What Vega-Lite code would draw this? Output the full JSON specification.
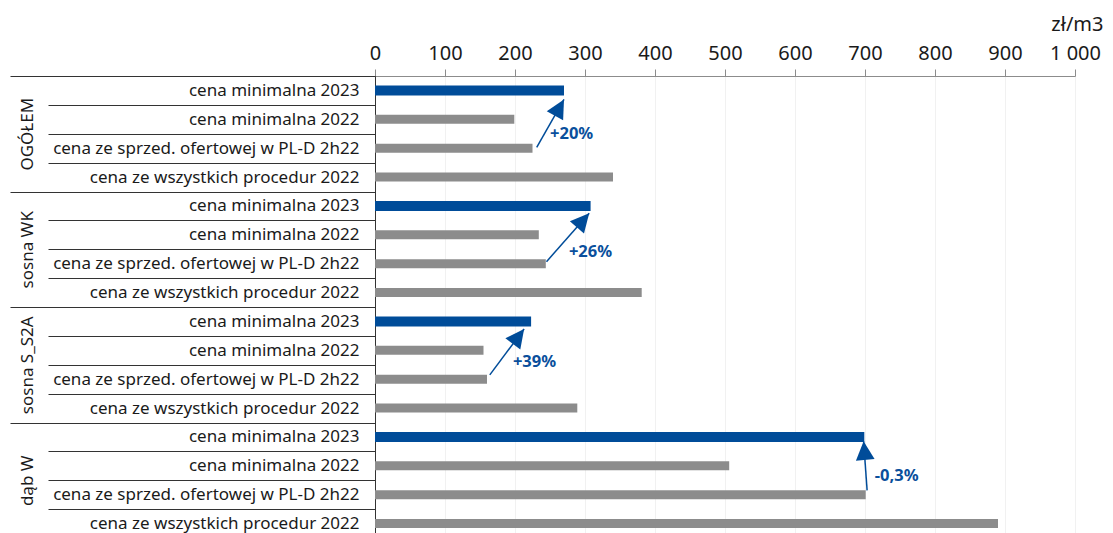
{
  "$schema": "https://vega.github.io/schema/vega-lite/v6.json",
  "width": 700,
  "height": 462,
  "autosize": {"type": "none"},
  "padding": {"left": 375, "top": 76, "right": 38, "bottom": 0},
  "background": "white",
  "config": {"view": {"stroke": null}},
  "datasets": {
    "ceny": [
      {"grupa": "OGÓŁEM", "kategoria": "cena minimalna 2023", "wartosc": 270},
      {"grupa": "OGÓŁEM", "kategoria": "cena minimalna 2022", "wartosc": 199},
      {"grupa": "OGÓŁEM", "kategoria": "cena ze sprzed. ofertowej w PL-D 2h22", "wartosc": 225},
      {"grupa": "OGÓŁEM", "kategoria": "cena ze wszystkich procedur 2022", "wartosc": 340},
      {"grupa": "sosna WK", "kategoria": "cena minimalna 2023", "wartosc": 308},
      {"grupa": "sosna WK", "kategoria": "cena minimalna 2022", "wartosc": 234},
      {"grupa": "sosna WK", "kategoria": "cena ze sprzed. ofertowej w PL-D 2h22", "wartosc": 244},
      {"grupa": "sosna WK", "kategoria": "cena ze wszystkich procedur 2022", "wartosc": 381},
      {"grupa": "sosna S_S2A", "kategoria": "cena minimalna 2023", "wartosc": 223},
      {"grupa": "sosna S_S2A", "kategoria": "cena minimalna 2022", "wartosc": 155},
      {"grupa": "sosna S_S2A", "kategoria": "cena ze sprzed. ofertowej w PL-D 2h22", "wartosc": 160},
      {"grupa": "sosna S_S2A", "kategoria": "cena ze wszystkich procedur 2022", "wartosc": 289},
      {"grupa": "dąb W", "kategoria": "cena minimalna 2023", "wartosc": 699},
      {"grupa": "dąb W", "kategoria": "cena minimalna 2022", "wartosc": 506},
      {"grupa": "dąb W", "kategoria": "cena ze sprzed. ofertowej w PL-D 2h22", "wartosc": 701},
      {"grupa": "dąb W", "kategoria": "cena ze wszystkich procedur 2022", "wartosc": 890}
    ],
    "strzalki": [
      {"grupa": "OGÓŁEM", "etykieta": "+20%", "x_od": 231, "y_od": 2.47, "x_do": 270, "y_do": 0.81, "x_tekst": 250, "y_tekst": 2.0},
      {"grupa": "sosna WK", "etykieta": "+26%", "x_od": 245, "y_od": 6.43, "x_do": 306, "y_do": 4.75, "x_tekst": 277, "y_tekst": 6.11},
      {"grupa": "sosna S_S2A", "etykieta": "+39%", "x_od": 164, "y_od": 10.35, "x_do": 213, "y_do": 8.76, "x_tekst": 197, "y_tekst": 9.9},
      {"grupa": "dąb W", "etykieta": "-0,3%", "x_od": 703, "y_od": 14.35, "x_do": 698, "y_do": 12.65, "x_tekst": 714, "y_tekst": 13.87}
    ]
  },
  "layer": [
    {
      "data": {"name": "ceny"},
      "transform": [{"calculate": "datum.grupa + '|' + datum.kategoria", "as": "wiersz"}],
      "mark": {"type": "bar"},
      "encoding": {
        "x": {
          "field": "wartosc", "type": "quantitative",
          "scale": {"domain": [0, 1000], "nice": false},
          "axis": {
            "orient": "top",
            "values": [0, 100, 200, 300, 400, 500, 600, 700, 800, 900, 1000],
            "labelExpr": "datum.value == 1000 ? '1 000' : datum.label",
            "labelFlush": false, "labelOverlap": false, "labelBound": false,
            "tickSize": 7, "tickColor": "#8c8c8c", "domainColor": "#8c8c8c",
            "labelFont": "Noto Sans", "labelFontSize": 20, "labelColor": "#1a1a1a", "labelPadding": 6,
            "grid": true, "gridColor": "#f1f1f1",
            "title": "zł/m3", "titleFont": "Noto Sans", "titleFontSize": 20, "titleFontWeight": "normal",
            "titleColor": "#1a1a1a", "titleAlign": "right", "titleAnchor": "end",
            "titleX": 728, "titleY": -46, "titleBaseline": "alphabetic"
          }
        },
        "y": {
          "field": "wiersz", "type": "nominal", "sort": null,
          "scale": {"type": "band", "paddingInner": 0, "paddingOuter": 0},
          "axis": {
            "title": null,
            "labelExpr": "split(datum.label, '|')[1]",
            "tickBand": "extent", "tickSize": 327, "tickColor": "#333333", "tickWidth": 1,
            "labelPadding": -311, "labelAlign": "right", "labelBaseline": "middle",
            "labelFont": "Noto Sans", "labelFontSize": 17, "labelColor": "#1a1a1a",
            "labelLimit": 500, "labelOverlap": false,
            "domainColor": "#333333"
          }
        },
        "color": {
          "field": "kategoria", "type": "nominal",
          "scale": {
            "domain": ["cena minimalna 2023", "cena minimalna 2022", "cena ze sprzed. ofertowej w PL-D 2h22", "cena ze wszystkich procedur 2022"],
            "range": ["#004c99", "#8c8c8c", "#8c8c8c", "#8c8c8c"]
          },
          "legend": null
        },
        "size": {
          "field": "kategoria", "type": "ordinal",
          "scale": {
            "type": "ordinal",
            "domain": ["cena minimalna 2023", "cena minimalna 2022", "cena ze sprzed. ofertowej w PL-D 2h22", "cena ze wszystkich procedur 2022"],
            "range": [10, 9, 9, 9]
          },
          "legend": null
        }
      }
    },
    {
      "data": {"name": "ceny"},
      "mark": {"type": "tick", "opacity": 0},
      "encoding": {
        "x": {"field": "wartosc", "type": "quantitative", "scale": {"domain": [0, 1000], "nice": false}},
        "y": {
          "field": "grupa", "type": "nominal", "sort": null,
          "scale": {"type": "band", "paddingInner": 0, "paddingOuter": 0},
          "axis": {
            "orient": "left", "title": null, "domain": false,
            "tickBand": "extent", "tickSize": 365, "tickColor": "#333333", "tickWidth": 1,
            "labelAngle": -90, "labelAlign": "center", "labelBaseline": "alphabetic",
            "labelPadding": -22, "labelFont": "Noto Sans", "labelFontSize": 17, "labelColor": "#1a1a1a",
            "labelLimit": 300, "labelOverlap": false
          }
        }
      }
    },
    {
      "data": {"name": "strzalki"},
      "mark": {"type": "rule", "color": "#004c99", "strokeWidth": 1.5},
      "encoding": {
        "x": {"field": "x_od", "type": "quantitative", "scale": {"domain": [0, 1000], "nice": false}},
        "x2": {"field": "x_do"},
        "y": {"field": "y_od", "type": "quantitative", "scale": {"domain": [0, 16], "reverse": true, "nice": false, "zero": false}, "axis": null},
        "y2": {"field": "y_do"}
      }
    },
    {
      "data": {"name": "strzalki"},
      "mark": {"type": "point", "shape": "M0,0L-0.5,1L0.5,1Z", "filled": true, "size": 1400, "color": "#004c99", "opacity": 1, "strokeWidth": 0},
      "encoding": {
        "x": {"field": "x_do", "type": "quantitative", "scale": {"domain": [0, 1000], "nice": false}},
        "y": {"field": "y_do", "type": "quantitative", "scale": {"domain": [0, 16], "reverse": true, "nice": false, "zero": false}, "axis": null},
        "angle": {
          "field": "etykieta", "type": "nominal",
          "scale": {"type": "ordinal", "domain": ["+20%", "+26%", "+39%", "-0,3%"], "range": [29, 41, 37, -5]},
          "legend": null
        }
      }
    },
    {
      "data": {"name": "strzalki"},
      "mark": {"type": "text", "align": "left", "baseline": "middle", "font": "Noto Sans", "fontSize": 16.5, "fontWeight": "bold", "color": "#0a4f9c"},
      "encoding": {
        "x": {"field": "x_tekst", "type": "quantitative", "scale": {"domain": [0, 1000], "nice": false}},
        "y": {"field": "y_tekst", "type": "quantitative", "scale": {"domain": [0, 16], "reverse": true, "nice": false, "zero": false}, "axis": null},
        "text": {"field": "etykieta", "type": "nominal"}
      }
    }
  ],
  "resolve": {"scale": {"y": "independent"}, "axis": {"y": "independent"}}
}
